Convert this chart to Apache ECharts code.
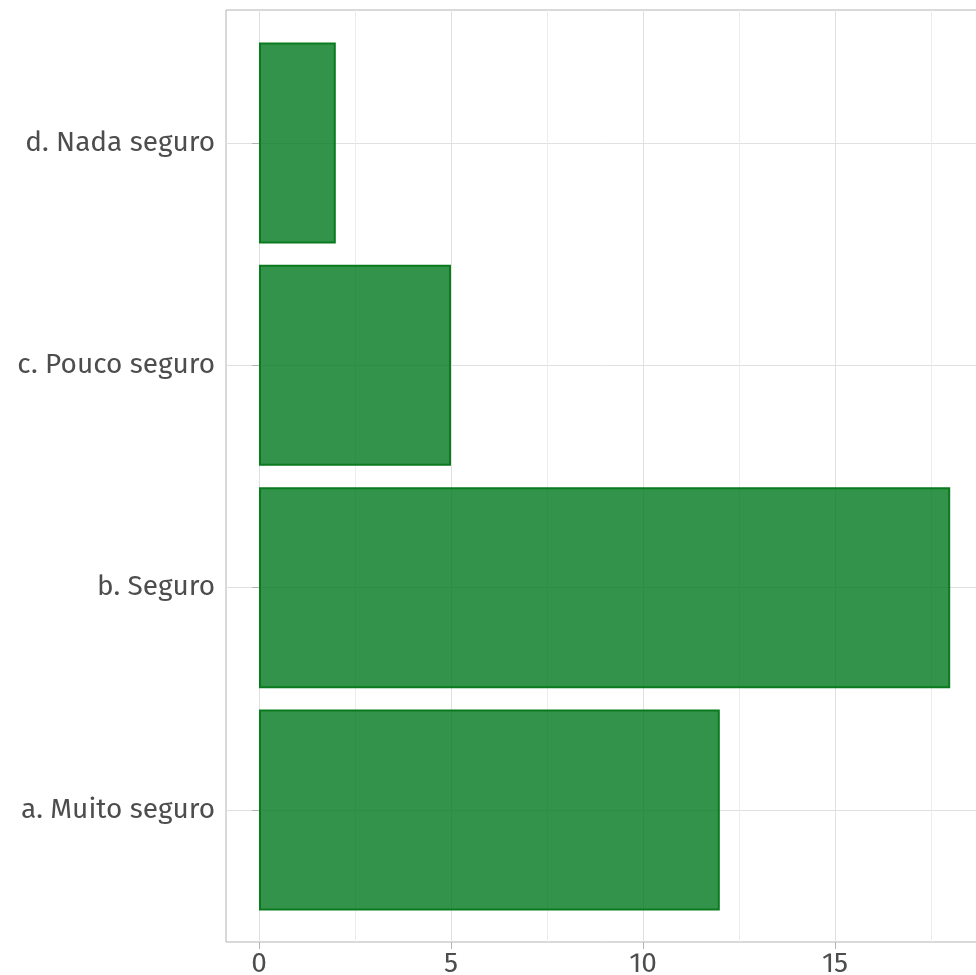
<!DOCTYPE html>
<html>
<head>
<meta charset="utf-8">
<script src="https://cdn.jsdelivr.net/npm/echarts@6/dist/echarts.min.js"></script>
<style>
  html, body { margin: 0; padding: 0; background: #fff; }
  #chart { width: 976px; height: 975px; }
</style>
</head>
<body>
<div id="chart"></div>
<script>
// categories top-to-bottom as drawn
const categories = ['d. Nada seguro', 'c. Pouco seguro', 'b. Seguro', 'a. Muito seguro'];
const counts = [2, 5, 18, 12];
const xTicks = [0, 5, 10, 15];

const fontFamily = '"Fira Sans", "Open Sans", "Noto Sans", sans-serif';
const textColor = '#4d4d4d';
const frameColor = '#b3b3b3';
const gridColor = '#e0e0e0';

const chart = echarts.init(document.getElementById('chart'));

const option = {
  animation: false,
  grid: [
    // panel frame
    { left: 226, right: -2, top: 10, bottom: 33, show: true, borderColor: frameColor, borderWidth: 1,
      backgroundColor: 'transparent', outerBoundsMode: 'none', containLabel: false },
    // x axis + vertical grid lines (starts at 0)
    { left: 259, right: -51, top: 10, bottom: 33, outerBoundsMode: 'none', containLabel: false },
    // bars + category axis
    { left: 226, right: -2, top: 143, bottom: 165, outerBoundsMode: 'none', containLabel: false }
  ],
  xAxis: [
    { gridIndex: 0, type: 'value', show: false, min: 0, max: 1 },
    {
      gridIndex: 1, type: 'value', min: 0, max: 20, interval: 5,
      axisLine: { show: false },
      axisTick: { show: true, length: 7, lineStyle: { color: frameColor, width: 1 } },
      axisLabel: {
        color: textColor, fontSize: 28, fontFamily: fontFamily, margin: 8,
        formatter: v => xTicks.includes(v) ? String(v) : ''
      },
      splitLine: { show: true, lineStyle: { color: gridColor, width: 1 } },
      minorTick: { show: false, splitNumber: 2 },
      minorSplitLine: { show: true, lineStyle: { color: '#ececec', width: 1 } }
    },
    { gridIndex: 2, type: 'value', show: false, min: -0.859, max: 18.724 }
  ],
  yAxis: [
    { gridIndex: 0, type: 'value', show: false, min: 0, max: 1 },
    { gridIndex: 1, type: 'value', show: false, min: 0, max: 1 },
    {
      gridIndex: 2, type: 'category', data: categories, boundaryGap: false, inverse: true,
      axisLine: { show: false },
      axisTick: { show: true, length: 7, lineStyle: { color: frameColor, width: 1 } },
      axisLabel: {
        color: textColor, fontSize: 28, fontFamily: fontFamily, margin: 11,
        padding: [4, 0, 0, 0]
      },
      splitLine: { show: true, lineStyle: { color: gridColor, width: 1 } }
    }
  ],
  series: [{
    type: 'bar',
    xAxisIndex: 2,
    yAxisIndex: 2,
    data: counts,
    barWidth: 201,
    clip: false,
    itemStyle: {
      color: 'rgba(0, 120, 30, 0.8)',
      borderColor: '#0a7a1f',
      borderWidth: 2
    }
  }]
};

chart.setOption(option);
</script>
</body>
</html>
